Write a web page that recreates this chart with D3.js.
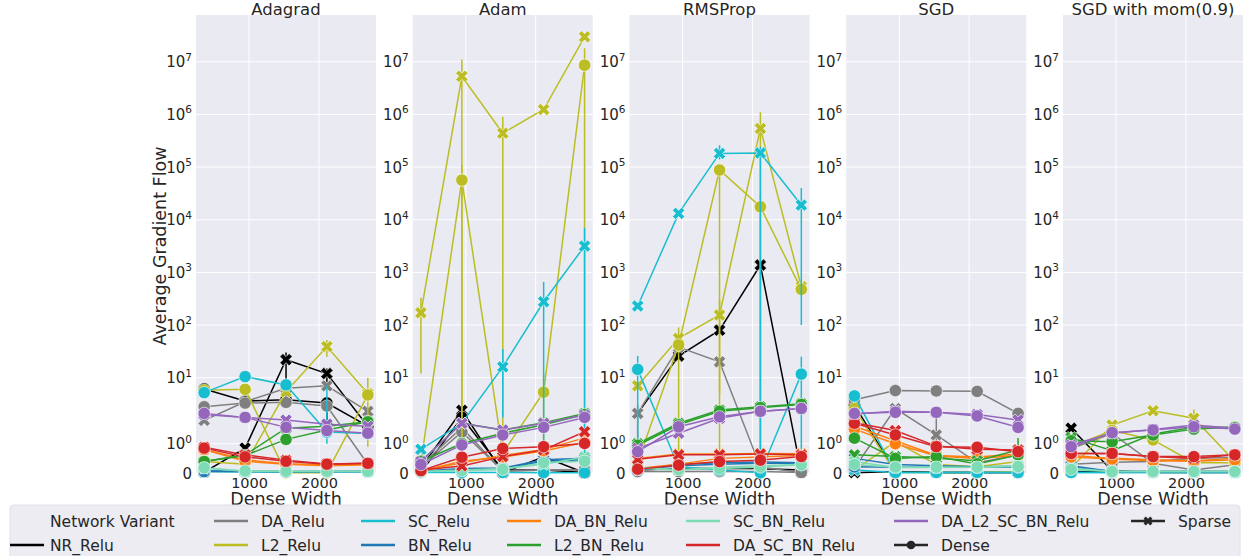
<!DOCTYPE html>
<html>
<head>
<meta charset="utf-8">
<script src="https://cdn.jsdelivr.net/npm/d3@7/dist/d3.min.js"></script>
<style>
  html, body { margin: 0; padding: 0; background: #fff; }
  svg { display: block; font-family: "DejaVu Sans", sans-serif; }
</style>
</head>
<body>
<svg id="chart" width="1248" height="556"></svg>
<script>
// ---- data -------------------------------------------------------------
const optimizers = ["Adagrad", "Adam", "RMSProp", "SGD", "SGD with mom(0.9)"];
const variants = ["NR_Relu", "DA_Relu", "L2_Relu", "SC_Relu", "BN_Relu",
  "DA_BN_Relu", "L2_BN_Relu", "SC_BN_Relu", "DA_SC_BN_Relu", "DA_L2_SC_BN_Relu"];
const variantColors = ["#000000", "#7f7f7f", "#bcbd22", "#17becf", "#1f77b4",
  "#ff7f0e", "#2ca02c", "#7ddcb5", "#d62728", "#9467bd"];
const denseWidths = [357, 943, 1529, 2114, 2700];
const yTickExponents = [0, 1, 2, 3, 4, 5, 6, 7];
const xTickValues = [1000, 2000];

const adagradSparse = {
  NR_Relu: [0.03, 0.85, 22, 12, 1.6],
  DA_Relu: [1.8, 3.5, 6.3, 7.0, 2.3],
  L2_Relu: [0.39, 0.3, 5.4, 39, 5.0],
  SC_Relu: [0.05, 0.03, 0.03, 0.03, 0.03],
  BN_Relu: [0.08, 0.06, 0.05, 0.05, 0.06],
  DA_BN_Relu: [0.8, 0.45, 0.32, 0.27, 0.3],
  L2_BN_Relu: [0.39, 0.62, 1.53, 1.6, 1.75],
  SC_BN_Relu: [0.16, 0.06, 0.05, 0.05, 0.05],
  DA_SC_BN_Relu: [0.88, 0.62, 0.44, 0.31, 0.33],
  DA_L2_SC_BN_Relu: [2.0, 1.9, 1.81, 1.67, 1.6]
};
const adagradDense = {
  NR_Relu: [6.1, 3.6, 3.8, 3.3, 1.6],
  DA_Relu: [2.8, 3.3, 3.4, 2.9, 0.3],
  L2_Relu: [5.8, 6.0, 0.01, 0.01, 4.7],
  SC_Relu: [5.2, 10.5, 7.3, 1.4, 1.35],
  BN_Relu: [0.05, 0.05, 0.04, 0.05, 0.05],
  DA_BN_Relu: [0.8, 0.4, 0.3, 0.25, 0.28],
  L2_BN_Relu: [0.39, 0.6, 1.15, 1.47, 1.75],
  SC_BN_Relu: [0.18, 0.07, 0.06, 0.06, 0.06],
  DA_SC_BN_Relu: [0.85, 0.55, 0.4, 0.3, 0.33],
  DA_L2_SC_BN_Relu: [2.1, 1.9, 1.56, 1.45, 1.36]
};
const adamSparse = {
  NR_Relu: [0.17, 2.4, 0.01, 0.55, 0.01],
  DA_Relu: [0.27, 1.55, 0.05, 0.1, 0.1],
  L2_Relu: [171, 5.3e6, 4.4e5, 1.24e6, 2.98e7],
  SC_Relu: [0.81, 1.7, 16, 277, 3160],
  BN_Relu: [0.06, 0.15, 0.17, 0.45, 0.5],
  DA_BN_Relu: [0.08, 0.35, 0.6, 0.8, 1.2],
  L2_BN_Relu: [0.4, 1.7, 1.47, 1.72, 2.1],
  SC_BN_Relu: [0.05, 0.1, 0.15, 0.3, 0.55],
  DA_SC_BN_Relu: [0.1, 0.24, 0.56, 0.79, 1.41],
  DA_L2_SC_BN_Relu: [0.39, 1.7, 1.47, 1.7, 1.98]
};
const adamDense = {
  NR_Relu: [0.02, 1.9, 0.1, 0.1, 0.02],
  DA_Relu: [0.2, 1.4, 0.08, 0.1, 0.1],
  L2_Relu: [0.36, 5.66e4, 0.68, 5.3, 8.6e6],
  SC_Relu: [0.02, 0.02, 0.02, 0.01, 0.01],
  BN_Relu: [0.05, 0.12, 0.15, 0.4, 0.45],
  DA_BN_Relu: [0.07, 0.4, 0.55, 0.75, 1.05],
  L2_BN_Relu: [0.4, 1.01, 1.36, 1.65, 2.0],
  SC_BN_Relu: [0.04, 0.08, 0.12, 0.35, 0.4],
  DA_SC_BN_Relu: [0.08, 0.54, 0.84, 0.9, 1.01],
  DA_L2_SC_BN_Relu: [0.29, 0.96, 1.3, 1.56, 1.9]
};
const rmspropSparse = {
  NR_Relu: [2.1, 25.8, 80, 1380, 0.02],
  DA_Relu: [2.1, 38, 20, 0.2, 0.02],
  L2_Relu: [7.0, 56, 155, 5.4e5, 533],
  SC_Relu: [230, 1.32e4, 1.82e5, 1.85e5, 1.9e4],
  BN_Relu: [0.1, 0.3, 0.35, 0.38, 0.35],
  DA_BN_Relu: [0.5, 0.65, 0.65, 0.67, 0.66],
  L2_BN_Relu: [1.0, 1.7, 2.43, 2.8, 3.2],
  SC_BN_Relu: [0.15, 0.1, 0.2, 0.25, 0.3],
  DA_SC_BN_Relu: [0.47, 0.62, 0.62, 0.65, 0.62],
  DA_L2_SC_BN_Relu: [0.84, 1.36, 1.87, 2.3, 2.6]
};
const rmspropDense = {
  NR_Relu: [0.1, 0.15, 0.15, 0.15, 0.1],
  DA_Relu: [0.05, 0.05, 0.05, 0.05, 0.02],
  L2_Relu: [0.35, 41.7, 8.8e4, 1.76e4, 477],
  SC_Relu: [14.4, 0.21, 0.1, 0.01, 11.7],
  BN_Relu: [0.12, 0.25, 0.3, 0.33, 0.33],
  DA_BN_Relu: [0.15, 0.3, 0.5, 0.55, 0.6],
  L2_BN_Relu: [0.95, 1.65, 2.3, 2.7, 3.1],
  SC_BN_Relu: [0.2, 0.12, 0.15, 0.2, 0.28],
  DA_SC_BN_Relu: [0.13, 0.27, 0.39, 0.44, 0.56],
  DA_L2_SC_BN_Relu: [0.73, 1.58, 1.92, 2.3, 2.6]
};
const sgdSparse = {
  NR_Relu: [0.01, 0.05, 0.02, 0.02, 0.02],
  DA_Relu: [0.17, 2.6, 1.3, 0.35, 0.62],
  L2_Relu: [0.1, 1.07, 0.29, 0.21, 0.39],
  SC_Relu: [0.1, 0.02, 0.02, 0.02, 0.02],
  BN_Relu: [0.5, 0.29, 0.25, 0.21, 0.23],
  DA_BN_Relu: [1.6, 1.1, 0.6, 0.55, 0.65],
  L2_BN_Relu: [0.62, 0.56, 0.5, 0.42, 0.79],
  SC_BN_Relu: [0.39, 0.19, 0.19, 0.2, 0.25],
  DA_SC_BN_Relu: [1.72, 1.45, 0.92, 0.81, 0.79],
  DA_L2_SC_BN_Relu: [2.05, 2.3, 2.2, 2.0, 1.81]
};
const sgdDense = {
  NR_Relu: [3.0, 0.05, 0.02, 0.02, 0.02],
  DA_Relu: [3.8, 5.7, 5.6, 5.5, 2.1],
  L2_Relu: [2.6, 0.02, 0.02, 0.02, 0.05],
  SC_Relu: [4.5, 0.02, 0.02, 0.02, 0.02],
  BN_Relu: [0.21, 0.2, 0.2, 0.2, 0.2],
  DA_BN_Relu: [1.5, 1.0, 0.58, 0.5, 0.6],
  L2_BN_Relu: [1.19, 0.5, 0.56, 0.31, 0.62],
  SC_BN_Relu: [0.29, 0.2, 0.2, 0.2, 0.22],
  DA_SC_BN_Relu: [1.7, 1.3, 0.9, 0.88, 0.73],
  DA_L2_SC_BN_Relu: [2.1, 2.2, 2.2, 1.95, 1.56]
};
const momSparse = {
  NR_Relu: [1.53, 0.08, 0.02, 0.02, 0.02],
  DA_Relu: [0.84, 1.35, 0.33, 0.1, 0.28],
  L2_Relu: [0.17, 1.64, 2.36, 1.87, 0.39],
  SC_Relu: [0.02, 0.02, 0.02, 0.02, 0.02],
  BN_Relu: [0.25, 0.05, 0.05, 0.05, 0.05],
  DA_BN_Relu: [0.6, 0.5, 0.45, 0.42, 0.5],
  L2_BN_Relu: [1.21, 0.76, 1.33, 1.56, 1.56],
  SC_BN_Relu: [0.17, 0.05, 0.05, 0.05, 0.05],
  DA_SC_BN_Relu: [0.67, 0.67, 0.56, 0.5, 0.62],
  DA_L2_SC_BN_Relu: [0.96, 1.36, 1.49, 1.64, 1.53]
};
const momDense = {
  NR_Relu: [0.05, 0.03, 0.03, 0.03, 0.03],
  DA_Relu: [0.3, 0.37, 0.39, 0.5, 0.53],
  L2_Relu: [0.9, 1.45, 1.13, 0.35, 0.35],
  SC_Relu: [0.02, 0.02, 0.02, 0.02, 0.02],
  BN_Relu: [0.2, 0.05, 0.05, 0.05, 0.05],
  DA_BN_Relu: [0.55, 0.48, 0.42, 0.4, 0.45],
  L2_BN_Relu: [1.1, 1.07, 1.3, 1.5, 1.56],
  SC_BN_Relu: [0.12, 0.05, 0.05, 0.05, 0.05],
  DA_SC_BN_Relu: [0.67, 0.67, 0.56, 0.56, 0.62],
  DA_L2_SC_BN_Relu: [0.9, 1.38, 1.47, 1.58, 1.5]
};

// error-bar ranges: [optimizer index, variant, style, point index, low, high]
const errorBars = [
  [0, "NR_Relu", "Sparse", 2, 5, 30],
  [0, "NR_Relu", "Sparse", 3, 8, 15],
  [0, "NR_Relu", "Dense", 3, 1.6, 4.2],
  [0, "L2_Relu", "Sparse", 3, 25, 52],
  [0, "L2_Relu", "Sparse", 4, 0.9, 10],
  [0, "SC_Relu", "Dense", 3, 1.0, 7],
  [1, "L2_Relu", "Sparse", 0, 12, 330],
  [1, "L2_Relu", "Sparse", 1, 0, 1.1e7],
  [1, "L2_Relu", "Sparse", 2, 0, 9e5],
  [1, "L2_Relu", "Dense", 1, 0, 1.1e5],
  [1, "L2_Relu", "Dense", 3, 0.3, 12],
  [1, "L2_Relu", "Dense", 4, 0, 1.8e7],
  [1, "SC_Relu", "Sparse", 2, 1.9, 35],
  [1, "SC_Relu", "Sparse", 3, 0, 660],
  [1, "SC_Relu", "Sparse", 4, 0, 7000],
  [2, "SC_Relu", "Sparse", 2, 1.4e5, 2.6e5],
  [2, "SC_Relu", "Sparse", 3, 0, 2.4e5],
  [2, "SC_Relu", "Sparse", 4, 100, 4e4],
  [2, "SC_Relu", "Dense", 0, 0, 26],
  [2, "SC_Relu", "Dense", 4, 0, 25],
  [2, "L2_Relu", "Sparse", 2, 5, 300],
  [2, "L2_Relu", "Sparse", 3, 0, 1.1e6],
  [2, "L2_Relu", "Dense", 1, 0, 90],
  [2, "L2_Relu", "Dense", 2, 0, 1.1e5],
  [2, "L2_Relu", "Dense", 3, 0, 3e4],
  [2, "DA_Relu", "Sparse", 0, 0.5, 3],
  [3, "DA_Relu", "Sparse", 2, 0.6, 2.2],
  [3, "L2_BN_Relu", "Sparse", 4, 0.4, 1.2],
  [4, "L2_Relu", "Sparse", 3, 1.5, 2.5]
];

const panelData = [
  { Sparse: adagradSparse, Dense: adagradDense },
  { Sparse: adamSparse, Dense: adamDense },
  { Sparse: rmspropSparse, Dense: rmspropDense },
  { Sparse: sgdSparse, Dense: sgdDense },
  { Sparse: momSparse, Dense: momDense }
];

// ---- layout -----------------------------------------------------------
const svg = d3.select("#chart");
const plotTop = 15, plotBottom = 473, plotWidth = 180;
const panelLeft0 = 196, panelStep = 216.75;
const bg = "#eaeaf2";

// symmetric-log transform: linear up to 2, logarithmic above
const linThresh = 2, linAdj = 1 / (1 - 1 / 10);
const symT = v => v <= linThresh ? (v / linThresh) * linAdj : linAdj + Math.log10(v / linThresh);

let maxVal = 0;
panelData.forEach(p => ["Sparse", "Dense"].forEach(s =>
  variants.forEach(v => p[s][v].forEach(d => { if (d > maxVal) maxVal = d; }))));
const yLin = d3.scaleLinear().domain([0, symT(maxVal) * 1.05]).range([plotBottom, plotTop]);
const yPos = v => yLin(symT(v));

const xExt = d3.extent(denseWidths);
const xPad = (xExt[1] - xExt[0]) * 0.05;

const crossPath = d3.symbol().type(d3.symbolCross).size(95)();
const circlePath = d3.symbol().type(d3.symbolCircle).size(120)();

optimizers.forEach((opt, pi) => {
  const left = panelLeft0 + pi * panelStep;
  const x = d3.scaleLinear().domain([xExt[0] - xPad, xExt[1] + xPad]).range([left, left + plotWidth]);
  const g = svg.append("g");

  g.append("rect").attr("x", left).attr("y", plotTop)
    .attr("width", plotWidth).attr("height", plotBottom - plotTop).attr("fill", bg);

  // grid
  const yTicks = [0].concat(yTickExponents.map(e => Math.pow(10, e)));
  g.selectAll(".hgrid").data(yTicks).join("line")
    .attr("x1", left).attr("x2", left + plotWidth)
    .attr("y1", d => yPos(d)).attr("y2", d => yPos(d))
    .attr("stroke", "#fff").attr("stroke-width", 1);
  g.selectAll(".vgrid").data(xTickValues).join("line")
    .attr("x1", d => x(d)).attr("x2", d => x(d))
    .attr("y1", plotTop).attr("y2", plotBottom)
    .attr("stroke", "#fff").attr("stroke-width", 1);

  // y tick labels
  const yl = g.append("g").attr("font-size", 15).attr("fill", "#262626").attr("text-anchor", "end");
  yl.append("text").attr("x", left - 4).attr("y", yPos(0) + 5.5).text("0");
  yTickExponents.forEach(e => {
    const t = yl.append("text").attr("x", left - 4).attr("y", yPos(Math.pow(10, e)) + 5.5);
    t.append("tspan").text("10");
    t.append("tspan").attr("font-size", 10.5).attr("dy", -6.5).text(String(e));
  });

  // x axis
  const xAxis = d3.axisBottom(x).tickValues(xTickValues).tickSize(0).tickPadding(5).tickFormat(d3.format("d"));
  const ax = g.append("g").attr("transform", `translate(0,${plotBottom})`).call(xAxis);
  ax.select(".domain").remove();
  ax.selectAll("text").attr("font-size", 14.5).attr("fill", "#262626")
    .attr("font-family", "DejaVu Sans, sans-serif");

  g.append("text").attr("x", left + plotWidth / 2).attr("y", 505)
    .attr("text-anchor", "middle").attr("font-size", 17.5).attr("fill", "#262626").text("Dense Width");
  g.append("text").attr("x", left + plotWidth / 2).attr("y", 15)
    .attr("text-anchor", "middle").attr("font-size", 16.5).attr("fill", "#262626").text(opt);

  const line = d3.line().x((d, i) => x(denseWidths[i])).y(d => yPos(d));

  variants.forEach((v, vi) => {
    const col = variantColors[vi];
    ["Sparse", "Dense"].forEach(style => {
      const vals = panelData[pi][style][v];
      // error bars
      errorBars.filter(e => e[0] === pi && e[1] === v && e[2] === style).forEach(e => {
        g.append("line")
          .attr("x1", x(denseWidths[e[3]])).attr("x2", x(denseWidths[e[3]]))
          .attr("y1", yPos(e[4])).attr("y2", yPos(e[5]))
          .attr("stroke", col).attr("stroke-width", 1.5);
      });
      g.append("path").datum(vals).attr("d", line)
        .attr("fill", "none").attr("stroke", col).attr("stroke-width", 1.5);
      g.selectAll(null).data(vals).join("path")
        .attr("d", style === "Sparse" ? crossPath : circlePath)
        .attr("transform", (d, i) => `translate(${x(denseWidths[i])},${yPos(d)})` + (style === "Sparse" ? " rotate(45)" : ""))
        .attr("fill", col).attr("stroke", "#fff").attr("stroke-width", 0.6);
    });
  });
});

// y-axis title
svg.append("text").attr("transform", "translate(166,246) rotate(-90)")
  .attr("text-anchor", "middle").attr("font-size", 17.5).attr("fill", "#262626")
  .text("Average Gradient Flow");

// ---- legend -----------------------------------------------------------
const legend = svg.append("g").attr("font-size", 15.5).attr("fill", "#262626");
legend.append("rect").attr("x", 10).attr("y", 505).attr("width", 1230).attr("height", 60)
  .attr("rx", 4).attr("fill", "#ececf2").attr("stroke", "#e0e0e8").attr("stroke-width", 1);

const rowY = [521, 545];
const legendEntries = [
  { label: "Network Variant", col: 0, row: 0 },
  { label: "NR_Relu", variant: 0, col: 0, row: 1 },
  { label: "DA_Relu", variant: 1, col: 1, row: 0 },
  { label: "L2_Relu", variant: 2, col: 1, row: 1 },
  { label: "SC_Relu", variant: 3, col: 2, row: 0 },
  { label: "BN_Relu", variant: 4, col: 2, row: 1 },
  { label: "DA_BN_Relu", variant: 5, col: 3, row: 0 },
  { label: "L2_BN_Relu", variant: 6, col: 3, row: 1 },
  { label: "SC_BN_Relu", variant: 7, col: 4, row: 0 },
  { label: "DA_SC_BN_Relu", variant: 8, col: 4, row: 1 },
  { label: "DA_L2_SC_BN_Relu", variant: 9, col: 5, row: 0 },
  { label: "Dense", marker: "Dense", col: 5, row: 1 },
  { label: "Sparse", marker: "Sparse", col: 6, row: 0 }
];
const colX = [10, 214, 361, 507, 686, 894, 1131];
const handleLen = 34;
const smallCross = d3.symbol().type(d3.symbolCross).size(50)();
const smallCircle = d3.symbol().type(d3.symbolCircle).size(60)();

legendEntries.forEach(e => {
  const hx = colX[e.col], y = rowY[e.row];
  if (e.variant !== undefined || e.marker) {
    const c = e.variant !== undefined ? variantColors[e.variant] : "#262626";
    legend.append("line").attr("x1", hx).attr("x2", hx + handleLen)
      .attr("y1", y).attr("y2", y).attr("stroke", c).attr("stroke-width", 2.5);
    if (e.marker) {
      legend.append("path")
        .attr("d", e.marker === "Sparse" ? smallCross : smallCircle)
        .attr("transform", `translate(${hx + handleLen / 2},${y})` + (e.marker === "Sparse" ? " rotate(45)" : ""))
        .attr("fill", c);
    }
  }
  const tx = e.col === 0 ? 50 : hx + handleLen + 13;
  legend.append("text").attr("x", tx).attr("y", y + 5.5).text(e.label);
});
</script>
</body>
</html>
